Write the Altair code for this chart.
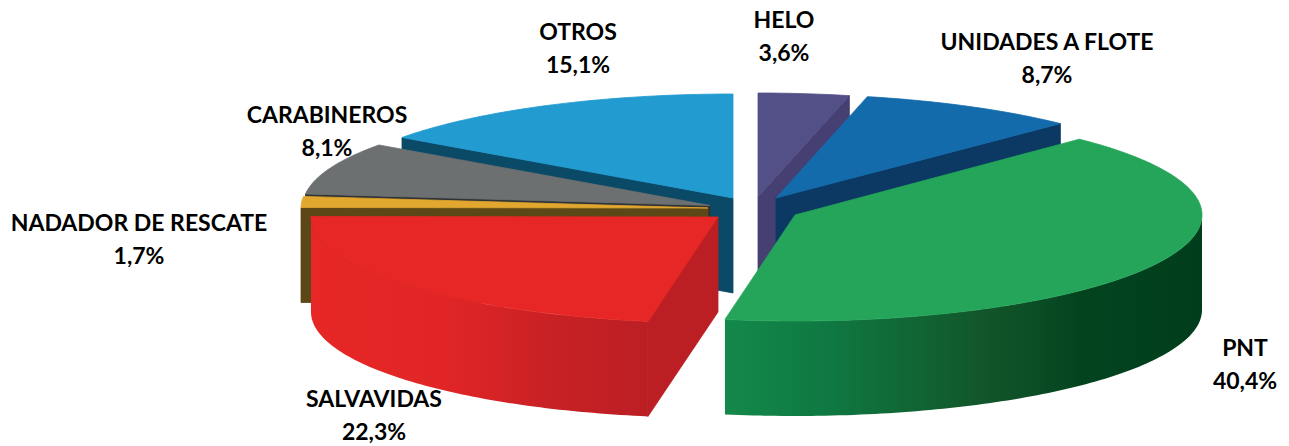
import math
import altair as alt
import pandas as pd

NAMES = ["HELO", "UNIDADES A FLOTE", "PNT", "SALVAVIDAS", "NADADOR DE RESCATE", "CARABINEROS", "OTROS"]
SHARES = [3.6, 8.7, 40.4, 22.3, 1.7, 8.1, 15.1]
SHARE_TEXT = ["3,6%", "8,7%", "40,4%", "22,3%", "1,7%", "8,1%", "15,1%"]

# layout: exploded centre of every slice, in picture pixels
APEX_X = [758, 776, 795, 718, 708, 710, 733]
APEX_Y = [197, 198, 215, 217, 208, 205.5, 198]
RADIUS_X = 407
RADIUS_Y = [104, 104, 106, 106, 104, 104, 104]
DEPTH = 95
TOP = ["#534f87", "#146bac", "#25a559", "#e62726", "#e2a72e", "#6d7071", "#229bd1"]
FACE = ["#453f72", "#0b3963", None, "#bb1f24", "#5c4716", "#2f3335", "#0b4a67"]
LABEL_X = [784, 1047, 1245, 374, 139, 327, 578]
LABEL_Y = [21, 43, 349, 400, 224, 116, 33]
LINE_GAP = 33

W, H = 1273, 438
X_SCALE = alt.Scale(domain=[8, 8 + W], range=[0, W], nice=False, zero=False)
Y_SCALE = alt.Scale(domain=[8, 8 + H], range=[0, H], nice=False, zero=False)

edges = [0.0]
for s in SHARES:
    edges.append(edges[-1] + s / sum(SHARES) * 360)


def rim(k, deg):
    a = math.radians(deg)
    return APEX_X[k] + RADIUS_X * math.sin(a), APEX_Y[k] - RADIUS_Y[k] * math.cos(a)


def arc(k, d0, d1):
    n = max(2, int(abs(d1 - d0)))
    return [rim(k, d0 + (d1 - d0) * i / n) for i in range(n + 1)]


def polygon(points, fill):
    pts = list(points) + [points[0]]
    df = pd.DataFrame({"x": [p[0] for p in pts], "y": [p[1] for p in pts], "i": range(len(pts))})
    stroke = fill if isinstance(fill, str) else None
    kwargs = {"stroke": stroke, "strokeWidth": 0.8} if stroke else {"strokeOpacity": 0}
    return alt.Chart(df).mark_line(fill=fill, **kwargs).encode(
        x=alt.X("x:Q", scale=X_SCALE, axis=None),
        y=alt.Y("y:Q", scale=Y_SCALE, axis=None),
        order="i:Q",
    )


def top(k):
    return polygon([(APEX_X[k], APEX_Y[k])] + arc(k, edges[k], edges[k + 1]), TOP[k])


def face(k, deg):
    rx, ry = rim(k, deg)
    ax, ay = APEX_X[k], APEX_Y[k]
    return polygon([(ax, ay), (rx, ry), (rx, ry + DEPTH), (ax, ay + DEPTH)], FACE[k])


def wall(k, d0, d1, fill):
    upper = arc(k, d0, d1)
    lower = [(x, y + DEPTH) for x, y in reversed(upper)]
    return polygon(upper + lower, fill)


def gradient(stops):
    return alt.Gradient(
        gradient="linear", x1=0, y1=0, x2=1, y2=0,
        stops=[alt.GradientStop(offset=o, color=c) for o, c in stops],
    )


GREEN_WALL = gradient([(0, "#14884a"), (0.2, "#0f7a43"), (0.55, "#12552a"), (0.75, "#03441f"), (1, "#003d1c")])
RED_WALL = gradient([(0, "#e62726"), (0.4, "#e12526"), (0.7, "#c92125"), (1, "#bb1f24")])

HELO, UNI, PNT, SAL, NAD, CAR, OTR = range(7)
layers = [
    face(HELO, edges[HELO + 1]), top(HELO),
    face(OTR, edges[OTR]), top(OTR),
    face(UNI, edges[UNI + 1]), top(UNI),
    face(CAR, edges[CAR]), top(CAR),
    face(NAD, edges[NAD]), top(NAD),
    wall(PNT, edges[PNT + 1], 90, GREEN_WALL),
    top(PNT),
    face(SAL, edges[SAL]), wall(SAL, edges[SAL], 270, RED_WALL), top(SAL),
]

labels = pd.DataFrame({
    "x": LABEL_X + LABEL_X,
    "y": LABEL_Y + [y + LINE_GAP for y in LABEL_Y],
    "t": NAMES + SHARE_TEXT,
})
text = alt.Chart(labels).mark_text(
    font="Lato", fontWeight="bold", fontSize=23, color="#000000", align="center", baseline="middle"
).encode(
    x=alt.X("x:Q", scale=X_SCALE, axis=None),
    y=alt.Y("y:Q", scale=Y_SCALE, axis=None),
    text="t:N",
)

chart = alt.layer(*layers, text).properties(
    width=W, height=H, padding=0, autosize=alt.AutoSizeParams(type="none"), background="#ffffff"
).configure_view(stroke=None)

chart.save("out.html", embed_options={"renderer": "svg", "actions": False})
